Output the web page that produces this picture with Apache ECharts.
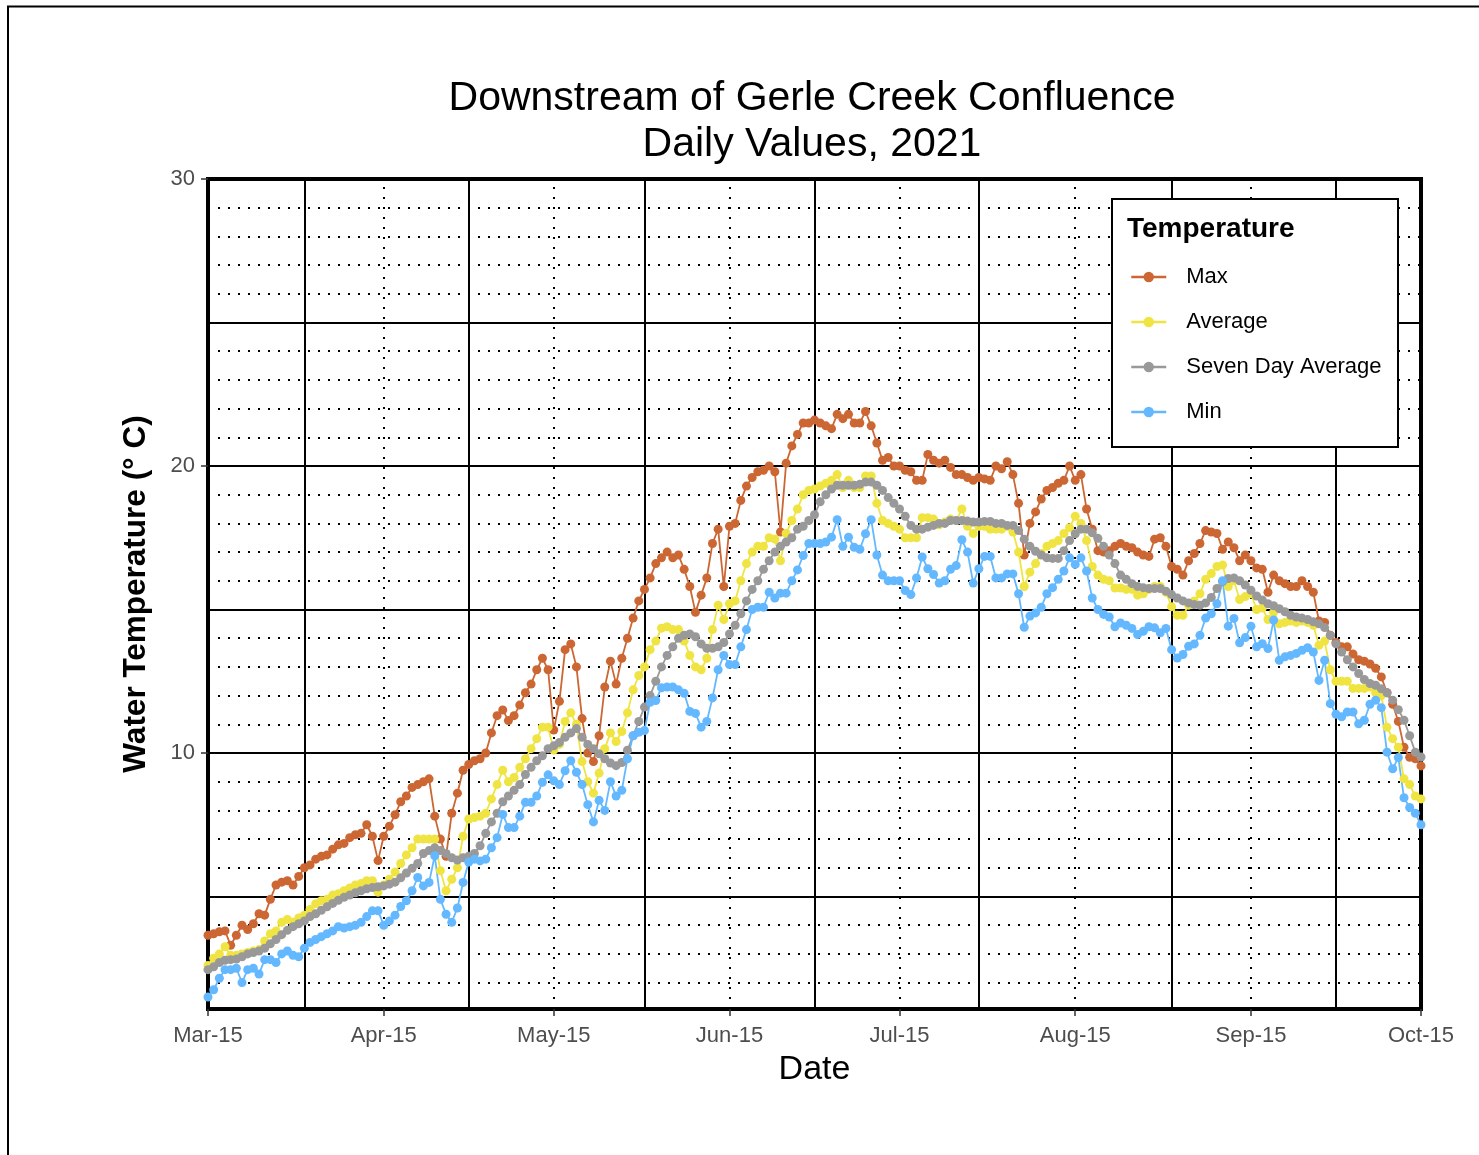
<!DOCTYPE html>
<html>
<head>
<meta charset="utf-8">
<title>Downstream of Gerle Creek Confluence</title>
<script src="https://cdn.jsdelivr.net/npm/echarts@6.0.0/dist/echarts.min.js"></script>
<style>
  html, body { margin: 0; padding: 0; background: #fff; }
  #chart { width: 1479px; height: 1155px; }
</style>
</head>
<body>
<div id="chart"></div>
<script>
// daily values, one per day starting 15 March 2021 (day 0) to 15 October (day 214)
const maxTemp = [
  3.65, 3.7, 3.77, 3.8, 3.3, 3.65, 4.0, 3.85, 4.05, 4.4,
  4.35, 4.9, 5.4, 5.5, 5.55, 5.4, 5.7, 6.0, 6.1, 6.3,
  6.4, 6.45, 6.65, 6.8, 6.85, 7.05, 7.15, 7.2, 7.5, 7.1,
  6.25, 7.1, 7.45, 7.85, 8.3, 8.5, 8.8, 8.9, 9.0, 9.1,
  7.8, 7.0, 6.4, 7.9, 8.6, 9.4, 9.6, 9.73, 9.8, 10.0,
  10.7, 11.3, 11.5, 11.13, 11.3, 11.67, 12.1, 12.4, 12.9, 13.3,
  12.9, 10.8, 11.8, 13.6, 13.8, 13.0, 11.2, 10.0, 9.7, 10.6,
  12.3, 13.2, 12.4, 13.3, 14.0, 14.7, 15.3, 15.7, 16.1, 16.6,
  16.8, 17.0, 16.8, 16.9, 16.4, 15.8, 14.9, 15.5, 16.1, 17.3,
  17.8, 15.8, 17.9, 18.0, 18.8, 19.3, 19.6, 19.8, 19.85, 20.0,
  19.8, 17.7, 20.1, 20.7, 21.1, 21.5, 21.5, 21.6, 21.5, 21.4,
  21.3, 21.8, 21.65, 21.8, 21.5, 21.5, 21.9, 21.4, 20.8, 20.2,
  20.3, 20.0, 20.0, 19.85, 19.8, 19.5, 19.5, 20.4, 20.2, 20.1,
  20.2, 19.95, 19.7, 19.7, 19.6, 19.5, 19.6, 19.55, 19.5, 20.0,
  19.9, 20.15, 19.7, 18.7, 16.9, 18.0, 18.4, 18.85, 19.15, 19.25,
  19.4, 19.5, 20.0, 19.5, 19.7, 18.5, 17.8, 17.05, 17.0, 17.05,
  17.2, 17.3, 17.2, 17.15, 17.0, 16.9, 16.85, 17.45, 17.5, 17.2,
  16.5, 16.4, 16.2, 16.7, 16.95, 17.3, 17.75, 17.7, 17.65, 17.1,
  17.35, 17.15, 16.7, 16.9, 16.7, 16.45, 16.4, 15.6, 16.2, 16.0,
  15.9, 15.8, 15.8, 16.0, 15.8, 15.6, 14.6, 14.55, 14.1, 13.85,
  13.7, 13.7, 13.45, 13.25, 13.2, 13.1, 12.95, 12.65, 12.1, 11.7,
  11.1, 10.2, 9.85, 9.8, 9.55
]

const avgTemp = [
  2.6, 2.85, 3.0, 3.25, 2.95, 2.95, 3.0, 3.05, 3.1, 3.15,
  3.45, 3.7, 3.8, 4.1, 4.2, 4.1, 4.25, 4.35, 4.55, 4.75,
  4.85, 4.9, 5.05, 5.1, 5.2, 5.3, 5.4, 5.45, 5.55, 5.55,
  5.15, 5.4, 5.6, 5.85, 6.15, 6.45, 6.7, 7.0, 7.0, 7.0,
  7.0, 5.9, 5.2, 5.6, 6.0, 7.1, 7.7, 7.75, 7.8, 7.9,
  8.4, 8.9, 9.4, 9.0, 9.15, 9.5, 9.8, 10.15, 10.5, 10.9,
  10.9, 10.1, 10.3, 11.1, 11.4, 11.0, 9.7, 9.0, 8.6, 9.3,
  10.15, 10.7, 10.4, 10.75, 11.4, 12.2, 12.7, 13.0, 13.6, 13.9,
  14.35, 14.4, 14.3, 14.3, 13.9, 13.4, 13.0, 12.9, 13.3, 14.3,
  15.15, 14.65, 15.2, 15.3, 16.0, 16.6, 17.0, 17.2, 17.2, 17.5,
  17.45, 16.7, 17.65, 18.1, 18.5, 19.0, 19.15, 19.2, 19.3, 19.4,
  19.5, 19.7, 19.25, 19.5, 19.25, 19.25, 19.65, 19.65, 18.7, 18.1,
  18.0, 17.9, 17.8, 17.5, 17.5, 17.5, 18.2, 18.2, 18.15, 17.95,
  18.05, 18.15, 18.1, 18.5, 17.9, 17.65, 17.9, 17.9, 17.8, 17.8,
  17.8, 17.9, 17.7, 17.0, 15.8, 16.3, 16.6, 16.95, 17.2, 17.3,
  17.4, 17.65, 17.85, 18.25, 18.0, 17.4, 16.5, 16.2, 16.05, 16.0,
  15.75, 15.75, 15.7, 15.7, 15.5, 15.55, 15.7, 15.8, 15.8, 15.6,
  15.1, 14.8, 14.8, 15.15, 15.3, 15.55, 16.05, 16.25, 16.5, 16.55,
  15.8, 16.0, 15.35, 15.45, 15.55, 15.0, 15.05, 14.65, 14.9, 14.5,
  14.55, 14.6, 14.55, 14.6, 14.55, 14.45, 13.75, 13.9, 12.9, 12.5,
  12.5, 12.5, 12.25, 12.25, 12.25, 12.3, 12.1, 12.0, 10.9, 10.5,
  10.2, 9.1, 8.9, 8.5, 8.4
]

const sevenDayAvg = [
  2.45, 2.55, 2.7, 2.78, 2.8, 2.82, 2.9, 3.0, 3.05, 3.1,
  3.2, 3.35, 3.5, 3.67, 3.82, 3.95, 4.05, 4.15, 4.3, 4.4,
  4.52, 4.64, 4.76, 4.87, 4.97, 5.05, 5.13, 5.2, 5.27, 5.31,
  5.34, 5.37, 5.43, 5.5, 5.65, 5.82, 5.98, 6.15, 6.5, 6.6,
  6.7, 6.6, 6.5, 6.35, 6.27, 6.35, 6.4, 6.5, 6.77, 7.2,
  7.6, 7.9, 8.3, 8.5, 8.7, 8.9, 9.25, 9.5, 9.73, 9.9,
  10.15, 10.25, 10.37, 10.55, 10.7, 10.85, 10.55, 10.3, 10.15, 9.97,
  9.8, 9.65, 9.56, 9.67, 10.1, 10.6, 11.1, 11.6, 12.0, 12.5,
  13.0, 13.4, 13.7, 14.0, 14.1, 14.15, 14.05, 13.8, 13.65, 13.65,
  13.7, 13.85, 14.15, 14.45, 14.85, 15.3, 15.7, 16.0, 16.4, 16.7,
  17.0, 17.2, 17.35, 17.5, 17.8, 17.9, 18.1, 18.3, 18.75, 19.0,
  19.2, 19.33, 19.33, 19.33, 19.33, 19.36, 19.44, 19.44, 19.33, 19.15,
  18.9, 18.7, 18.5, 18.25, 17.93, 17.8, 17.8, 17.87, 17.93, 18.0,
  18.0, 18.1, 18.1, 18.1, 18.08, 18.05, 18.05, 18.07, 18.07, 18.0,
  18.0, 17.93, 17.93, 17.75, 17.45, 17.2, 17.03, 16.9, 16.8, 16.78,
  16.78, 17.05, 17.4, 17.64, 17.8, 17.8, 17.67, 17.48, 17.2, 16.9,
  16.6, 16.2, 16.05, 15.9, 15.8, 15.76, 15.73, 15.73, 15.73, 15.64,
  15.52, 15.4, 15.3, 15.23, 15.17, 15.15, 15.23, 15.42, 15.73, 15.97,
  16.08, 16.1, 16.0, 15.85, 15.67, 15.47, 15.33, 15.2, 15.13, 15.03,
  14.92, 14.8, 14.74, 14.7, 14.65, 14.57, 14.5, 14.37, 14.1, 13.8,
  13.52, 13.25, 13.0, 12.77, 12.56, 12.42, 12.36, 12.24, 12.1, 11.84,
  11.51, 11.14, 10.6, 10.03, 9.86
]

const minTemp = [
  1.5, 1.75, 2.15, 2.45, 2.45, 2.5, 2.0, 2.45, 2.5, 2.3,
  2.8, 2.8, 2.7, 3.0, 3.1, 2.95, 2.9, 3.2, 3.4, 3.5,
  3.6, 3.7, 3.8, 3.95, 3.9, 3.95, 4.0, 4.1, 4.3, 4.5,
  4.5, 4.0, 4.15, 4.35, 4.65, 4.85, 5.2, 5.66, 5.37, 5.49,
  6.42, 4.9, 4.38, 4.1, 4.6, 5.49, 6.2, 6.3, 6.24, 6.3,
  6.7, 7.05, 7.86, 7.4, 7.4, 7.8, 8.28, 8.28, 8.5, 8.98,
  9.24, 9.03, 8.9, 9.38, 9.73, 9.33, 8.9, 8.2, 7.6, 8.35,
  8.0, 9.0, 8.5, 8.7, 9.8, 10.6, 10.72, 10.78, 11.77, 11.83,
  12.27, 12.3, 12.3, 12.2, 12.08, 11.45, 11.38, 10.9, 11.1, 11.92,
  12.9, 13.4, 13.08, 13.08, 13.7, 14.3, 15.0, 15.08, 15.08, 15.6,
  15.4, 15.57, 15.57, 16.0, 16.38, 16.88, 17.3, 17.3, 17.3, 17.35,
  17.52, 18.13, 17.2, 17.52, 17.17, 17.1, 17.64, 18.13, 16.9, 16.2,
  16.0, 16.0, 16.0, 15.66, 15.52, 16.1, 16.83, 16.42, 16.22, 15.92,
  16.0, 16.4, 16.53, 17.43, 17.0, 15.92, 16.42, 16.85, 16.85, 16.1,
  16.1, 16.24, 16.24, 15.55, 14.38, 14.77, 14.88, 15.08, 15.55, 15.76,
  16.05, 16.34, 16.8, 16.57, 16.8, 16.34, 15.4, 15.0, 14.83, 14.74,
  14.4, 14.53, 14.45, 14.34, 14.13, 14.24, 14.4, 14.36, 14.19, 14.34,
  13.6, 13.31, 13.43, 13.72, 13.8, 14.1, 14.7, 14.85, 15.2, 16.0,
  14.42, 14.69, 13.84, 14.02, 14.42, 13.7, 13.81, 13.64, 14.63, 13.23,
  13.35, 13.4, 13.47, 13.58, 13.67, 13.52, 12.53, 13.23, 11.72, 11.35,
  11.26, 11.43, 11.43, 11.02, 11.14, 11.7, 11.84, 11.58, 10.03, 9.45,
  9.84, 8.44, 8.1, 7.9, 7.5
]

// x ticks, counted in days from Mar-15
const tickDays = [0, 31, 61, 92, 122, 153, 184, 214]
const tickLabels = ['Mar-15', 'Apr-15', 'May-15', 'Jun-15', 'Jul-15', 'Aug-15', 'Sep-15', 'Oct-15']
// solid vertical grid lines between the labelled dates
const solidGridDays = [17, 46, 77, 107, 136, 170, 199]
const yLabelValues = [10, 20, 30]

const FONT = '"Liberation Sans", Arial, Helvetica, sans-serif'
const COLORS = {
  max: '#CC6633',
  avg: '#F0E442',
  seven: '#999999',
  min: '#63B8FF',
}

const toPoints = (arr) => arr.map((v, i) => [i, v])

// grid lines are drawn as mark lines of an empty series, kept under the data
const dotted = { color: '#000', width: 2, type: [2, 8] }
const solid = { color: '#000', width: 2, type: 'solid' }
const gridLines = []
for (let v = 2; v < 30; v++) {
  gridLines.push({ yAxis: v, lineStyle: v % 5 === 0 ? solid : dotted })
}
tickDays.slice(1, -1).forEach(d => gridLines.push({ xAxis: d, lineStyle: dotted }))
solidGridDays.forEach(d => gridLines.push({ xAxis: d, lineStyle: solid }))

function lineSeries(name, values, color) {
  return {
    name,
    type: 'line',
    data: toPoints(values),
    z: 3,
    symbol: 'circle',
    symbolSize: 9,
    showSymbol: true,
    showAllSymbol: true,
    lineStyle: { width: 1.8, color },
    itemStyle: { color, borderWidth: 0 },
    emphasis: { disabled: true },
  }
}

const chart = echarts.init(document.getElementById('chart'), null, { renderer: 'canvas' })

const option = {
  animation: false,
  backgroundColor: '#ffffff',
  textStyle: { fontFamily: FONT },
  grid: {
    left: 208,
    top: 179,
    width: 1213,
    height: 830,
    show: true,
    borderColor: '#000',
    borderWidth: 4,
    backgroundColor: 'transparent',
  },
  xAxis: {
    type: 'value',
    min: 0,
    max: 214,
    name: 'Date',
    nameLocation: 'middle',
    nameGap: 44,
    nameTextStyle: { fontSize: 34, color: '#000', fontFamily: FONT },
    axisLine: { show: false },
    axisTick: {
      show: true,
      customValues: tickDays,
      length: 7,
      lineStyle: { color: '#333', width: 1.5 },
    },
    axisLabel: {
      customValues: tickDays,
      formatter: (v) => tickLabels[tickDays.indexOf(v)] || '',
      fontSize: 22,
      color: '#4D4D4D',
      margin: 16,
      fontFamily: FONT,
      showMinLabel: true,
      showMaxLabel: true,
    },
    splitLine: { show: false },
  },
  yAxis: {
    type: 'value',
    min: 1.08,
    max: 30,
    name: 'Water Temperature (° C)',
    nameLocation: 'middle',
    nameGap: 56,
    nameTextStyle: { fontSize: 31.5, fontWeight: 'bold', color: '#000', fontFamily: FONT },
    axisLine: { show: false },
    axisTick: {
      show: true,
      customValues: yLabelValues,
      length: 7,
      lineStyle: { color: '#333', width: 1.5 },
    },
    axisLabel: {
      customValues: yLabelValues,
      fontSize: 22,
      color: '#4D4D4D',
      margin: 13,
      fontFamily: FONT,
    },
    splitLine: { show: false },
  },
  legend: {
    data: ['Max', 'Average', 'Seven Day Average', 'Min'],
    orient: 'vertical',
    left: 1125,
    top: 260,
    itemWidth: 35,
    itemHeight: 13,
    itemGap: 21,
    z: 8,
    selectedMode: false,
    lineStyle: { width: 2.5 },
    textStyle: {
      fontSize: 22,
      lineHeight: 24,
      color: '#000',
      fontFamily: FONT,
      padding: [0, 0, 0, 15],
    },
  },
  graphic: [
    {
      // outer figure frame
      type: 'polyline',
      z: 0,
      silent: true,
      shape: { points: [[8, 1170], [8, 6.5], [1490, 6.5]] },
      style: { stroke: '#000', lineWidth: 2, fill: null },
    },
    {
      type: 'text',
      x: 812,
      y: 76,
      z: 8,
      silent: true,
      style: {
        text: 'Downstream of Gerle Creek Confluence\nDaily Values, 2021',
        fontSize: 41,
        fontFamily: FONT,
        lineHeight: 46,
        fill: '#000',
        align: 'center',
        verticalAlign: 'top',
      },
    },
    {
      // legend box
      type: 'rect',
      z: 7,
      silent: true,
      shape: { x: 1112, y: 199, width: 286, height: 248 },
      style: { fill: '#fff', stroke: '#000', lineWidth: 2 },
    },
    {
      type: 'text',
      x: 1127,
      y: 229,
      z: 8,
      silent: true,
      style: {
        text: 'Temperature',
        fontSize: 28,
        fontWeight: 'bold',
        fontFamily: FONT,
        fill: '#000',
        align: 'left',
        verticalAlign: 'middle',
      },
    },
  ],
  series: [
    {
      name: 'grid',
      type: 'line',
      data: [],
      z: 1,
      silent: true,
      markLine: {
        z: 1,
        silent: true,
        symbol: ['none', 'none'],
        label: { show: false },
        emphasis: { disabled: true },
        animation: false,
        data: gridLines,
      },
    },
    lineSeries('Max', maxTemp, COLORS.max),
    lineSeries('Average', avgTemp, COLORS.avg),
    lineSeries('Seven Day Average', sevenDayAvg, COLORS.seven),
    lineSeries('Min', minTemp, COLORS.min),
  ],
}

chart.setOption(option)
</script>
</body>
</html>
